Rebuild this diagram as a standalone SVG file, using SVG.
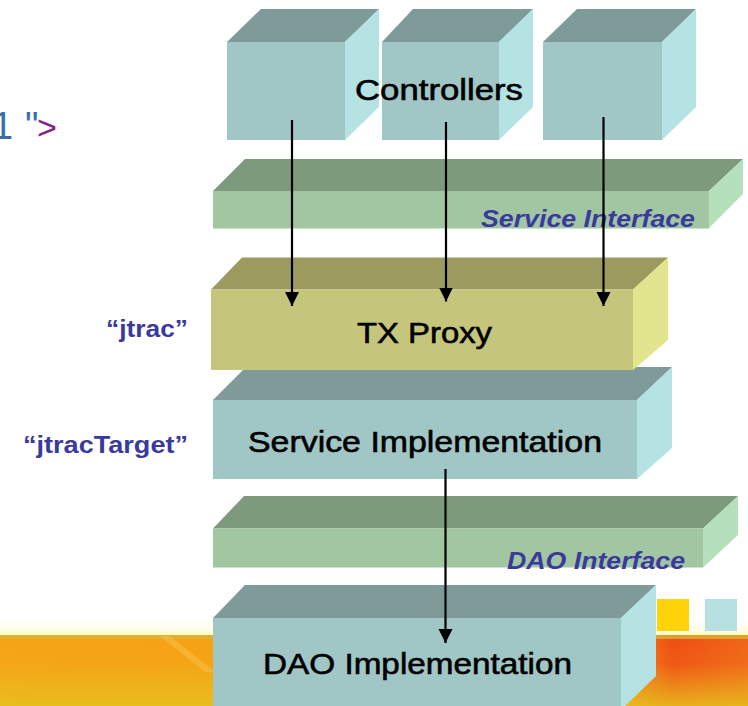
<svg xmlns="http://www.w3.org/2000/svg" width="748" height="706" viewBox="0 0 748 706">
<style>
.tf{fill:#7e9b99}.ff{fill:#a1c6c6}.rf{fill:#b5e2e2}
.tg{fill:#7e9a7c}.fg{fill:#a1c6a1}.rg{fill:#b6e0bb}
.ty{fill:#9c9a5e}.fy{fill:#c5c67c}.ry{fill:#e3e48e}
.lbl{font-family:"Liberation Sans",Arial,sans-serif;font-size:30px;fill:#000;stroke:#000;stroke-width:0.6px}
.itf{font-family:"Liberation Sans",Arial,sans-serif;font-size:24px;font-weight:bold;font-style:italic;fill:#3a3a9e}
.bean{font-family:"Liberation Sans",Arial,sans-serif;font-size:24px;font-weight:bold;fill:#3a3a9e}
.edge{stroke:#000;stroke-width:2.2;fill:none;marker-end:url(#ah)}
</style>
<defs>
<marker id="ah" markerUnits="userSpaceOnUse" markerWidth="16" markerHeight="16" viewBox="0 0 16 16" refX="14" refY="8" orient="auto">
<path d="M0,1 L14,8 L0,15 Z" fill="#000"/>
</marker>
<linearGradient id="band" x1="0" y1="0" x2="1" y2="0">
<stop offset="0" stop-color="#f6a318"/>
<stop offset="0.5" stop-color="#f5a012"/>
<stop offset="0.84" stop-color="#f3801a"/>
<stop offset="0.9" stop-color="#f04c14"/>
<stop offset="1" stop-color="#f06418"/>
</linearGradient>
<linearGradient id="bandv" x1="0" y1="0" x2="0" y2="1">
<stop offset="0" stop-color="#e8c020" stop-opacity="0"/>
<stop offset="0.4" stop-color="#e8c020" stop-opacity="0.1"/>
<stop offset="1" stop-color="#e6c21e" stop-opacity="0.85"/>
</linearGradient>
<linearGradient id="glow" x1="0" y1="0" x2="0" y2="1">
<stop offset="0" stop-color="#ffffff"/>
<stop offset="1" stop-color="#fffce0"/>
</linearGradient>
</defs>
<rect width="748" height="706" fill="#fff"/>
<g id="background">
<rect x="0" y="620" width="748" height="12" fill="url(#glow)"/>
<rect x="0" y="632" width="748" height="3" fill="#ffffc4"/>
<rect x="0" y="635" width="748" height="71" fill="url(#band)"/>
<rect x="0" y="635" width="748" height="71" fill="url(#bandv)"/>
<rect x="0" y="635" width="748" height="4" fill="#dcb23a" opacity="0.8"/>
<path d="M160,636 L170,636 L215,672 L205,672 Z" fill="#f8d060" opacity="0.35"/>
<rect x="657" y="599" width="32" height="32" fill="#ffd20a"/>
<rect x="705" y="599" width="32" height="32" fill="#b7e0e2"/>
</g>
<g id="code-fragment">
<text x="-8" y="139" font-family="'Liberation Sans',Arial,sans-serif" font-size="38"><tspan fill="#3c6ea8">1</tspan><tspan x="25" fill="#3c6ea8">"</tspan><tspan x="37" fill="#8b1a8b" font-size="34">&gt;</tspan></text>
<text x="-5" y="672" font-family="'Liberation Sans',Arial,sans-serif" font-size="20" fill="#000">.</text>
</g>
<g id="controller1">
<polygon class="tf" points="227,42 261,9 379,9 345,42"/>
<polygon class="rf" points="345,42 379,9 379,107 345,140"/>
<rect class="ff" x="227" y="42" width="118" height="98"/>
</g>
<g id="controller2">
<polygon class="tf" points="382,42 413,9 533,9 499,42"/>
<polygon class="rf" points="499,42 533,9 533,107 499,140"/>
<rect class="ff" x="382" y="42" width="117" height="98"/>
</g>
<g id="controller3">
<polygon class="tf" points="543,42 577,9 696,9 662,42"/>
<polygon class="rf" points="662,42 696,9 696,107 662,140"/>
<rect class="ff" x="543" y="42" width="119" height="98"/>
</g>
<g id="controllers-label">
<text class="lbl" x="355" y="100" textLength="168" lengthAdjust="spacingAndGlyphs">Controllers</text>
</g>
<g id="service-interface">
<polygon class="tg" points="213,191 245,159 743,159 709,191"/>
<polygon class="rg" points="709,191 743,159 743,194 709,228"/>
<rect class="fg" x="213" y="191" width="496" height="37.5"/>
<text class="itf" x="481" y="227" textLength="214" lengthAdjust="spacingAndGlyphs">Service Interface</text>
</g>
<g id="service-implementation">
<polygon class="tf" points="213,400 246,367 672,367 637,400"/>
<polygon class="rf" points="637,400 672,367 672,448 637,479"/>
<rect class="ff" x="213" y="400" width="424" height="79"/>
<text class="lbl" x="248" y="452" textLength="354" lengthAdjust="spacingAndGlyphs">Service Implementation</text>
</g>
<g id="tx-proxy">
<polygon class="ty" points="211,289.5 242,257.5 668,257.5 633,289.5"/>
<polygon class="ry" points="633,289.5 668,257.5 668,340 633,370"/>
<rect class="fy" x="211" y="289.5" width="422" height="80.5"/>
<text class="lbl" x="357" y="343" textLength="135" lengthAdjust="spacingAndGlyphs">TX Proxy</text>
</g>
<g id="label-jtrac">
<text class="bean" x="106" y="337" textLength="82" lengthAdjust="spacingAndGlyphs">“jtrac”</text>
</g>
<g id="label-jtracTarget">
<text class="bean" x="23" y="453" textLength="165" lengthAdjust="spacingAndGlyphs">“jtracTarget”</text>
</g>
<g id="dao-interface">
<polygon class="tg" points="213,528.5 244,496 738,496 703,528.5"/>
<polygon class="rg" points="703,528.5 738,496 738,535 703,567.5"/>
<rect class="fg" x="213" y="528.5" width="490" height="39"/>
<text class="itf" x="507" y="569" textLength="178" lengthAdjust="spacingAndGlyphs">DAO Interface</text>
</g>
<g id="dao-implementation">
<polygon class="tf" points="213,618 245,585 656,585 621,618"/>
<polygon class="rf" points="621,618 656,585 656,676 621,710"/>
<rect class="ff" x="213" y="618" width="408" height="100"/>
<text class="lbl" x="263" y="674" textLength="309" lengthAdjust="spacingAndGlyphs">DAO Implementation</text>
</g>
<g id="connectors">
<line class="edge" x1="292" y1="120" x2="292" y2="306"/>
<line class="edge" x1="446" y1="122" x2="446" y2="301.5"/>
<line class="edge" x1="603.5" y1="117" x2="603.5" y2="306"/>
<line class="edge" x1="445.5" y1="469" x2="445.5" y2="643"/>
</g>
</svg>
